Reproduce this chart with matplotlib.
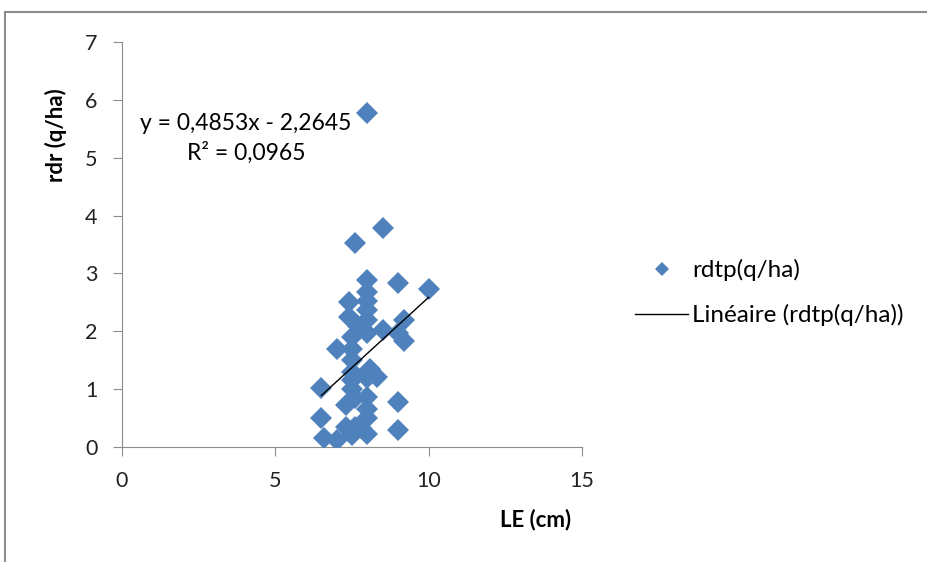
import matplotlib.pyplot as plt
from matplotlib.patches import Rectangle

plt.rcParams['font.family'] = ['Lato', 'DejaVu Sans']

# LE (cm)
le = [8.0, 7.6, 8.5, 8.0, 9.0, 10.0, 8.0, 7.4, 8.0, 7.4, 8.0, 8.0, 9.2, 7.7,
      8.5, 7.5, 8.0, 9.0, 9.2, 7.0, 7.5, 7.5, 8.1, 8.3, 7.5, 7.5, 6.5, 8.0,
      7.3, 8.0, 9.0, 6.5, 8.0, 7.3, 7.8, 9.0, 6.6, 7.0, 7.5, 8.0, 7.6, 8.0,
      7.5, 7.6]
# rdtp (q/ha)
rdtp = [5.77, 3.53, 3.78, 2.88, 2.83, 2.73, 2.68, 2.50, 2.52, 2.25, 2.37, 2.20,
        2.19, 2.10, 2.02, 1.90, 1.97, 1.97, 1.83, 1.70, 1.50, 1.70, 1.35, 1.21,
        1.15, 1.00, 1.02, 0.87, 0.73, 0.65, 0.78, 0.50, 0.50, 0.35, 0.33, 0.30,
        0.16, 0.12, 0.20, 0.22, 0.35, 1.20, 1.30, 0.85]

pente = 0.4853
ordonnee = -2.2645
r2 = 0.0965

fig = plt.figure(figsize=(9.28, 5.62), dpi=100)
ax = fig.add_axes([0.1315, 0.2046, 0.4957, 0.7206])

# cadre du graphique (coupé à droite et en bas)
fig.add_artist(Rectangle((5 / 928, -0.2), 1.2, 1.2 - 12 / 562,
                         transform=fig.transFigure, fill=False,
                         edgecolor='#8c8c8c', linewidth=1.5))

ax.plot(le, rdtp, 'D', color='#4F81BD', markersize=11,
        markeredgewidth=0, label='rdtp(q/ha)', zorder=3)

x_min, x_max = min(le), max(le)
ax.plot([x_min, x_max], [pente * x_min + ordonnee, pente * x_max + ordonnee],
        color='black', linewidth=1, label='Linéaire (rdtp(q/ha))', zorder=4)

equation = f"y = {pente:.4f}x - {abs(ordonnee):.4f}\nR² = {r2:.4f}".replace('.', ',')
ax.text(4.04, 5.33, equation, ha='center', va='center', multialignment='center',
        fontsize=16.5, linespacing=1.42)

ax.set_xlim(0, 15)
ax.set_ylim(0, 7)
ax.set_xticks([0, 5, 10, 15])
ax.set_yticks(range(0, 8))
for s in ['top', 'right']:
    ax.spines[s].set_visible(False)
for s in ['left', 'bottom']:
    ax.spines[s].set_color('#8c8c8c')
ax.tick_params(colors='#8c8c8c', labelcolor='#222222', labelsize=15.5, length=6.5)
ax.tick_params(axis='x', pad=11)
ax.tick_params(axis='y', pad=11)

ax.set_xlabel('LE (cm)', fontsize=16, fontweight='bold')
ax.set_ylabel('rdr (q/ha)', fontsize=16, fontweight='bold')
ax.xaxis.set_label_coords(0.9, -0.153)
ax.yaxis.set_label_coords(-0.12, 0.77)

ax.legend(loc='center left', bbox_to_anchor=(1.115, 0.381), frameon=False,
          fontsize=17.5, handlelength=2.2, labelspacing=0.95, handletextpad=0.15,
          borderpad=0, borderaxespad=0, markerscale=0.62)

fig.savefig('out.png', dpi=100)
